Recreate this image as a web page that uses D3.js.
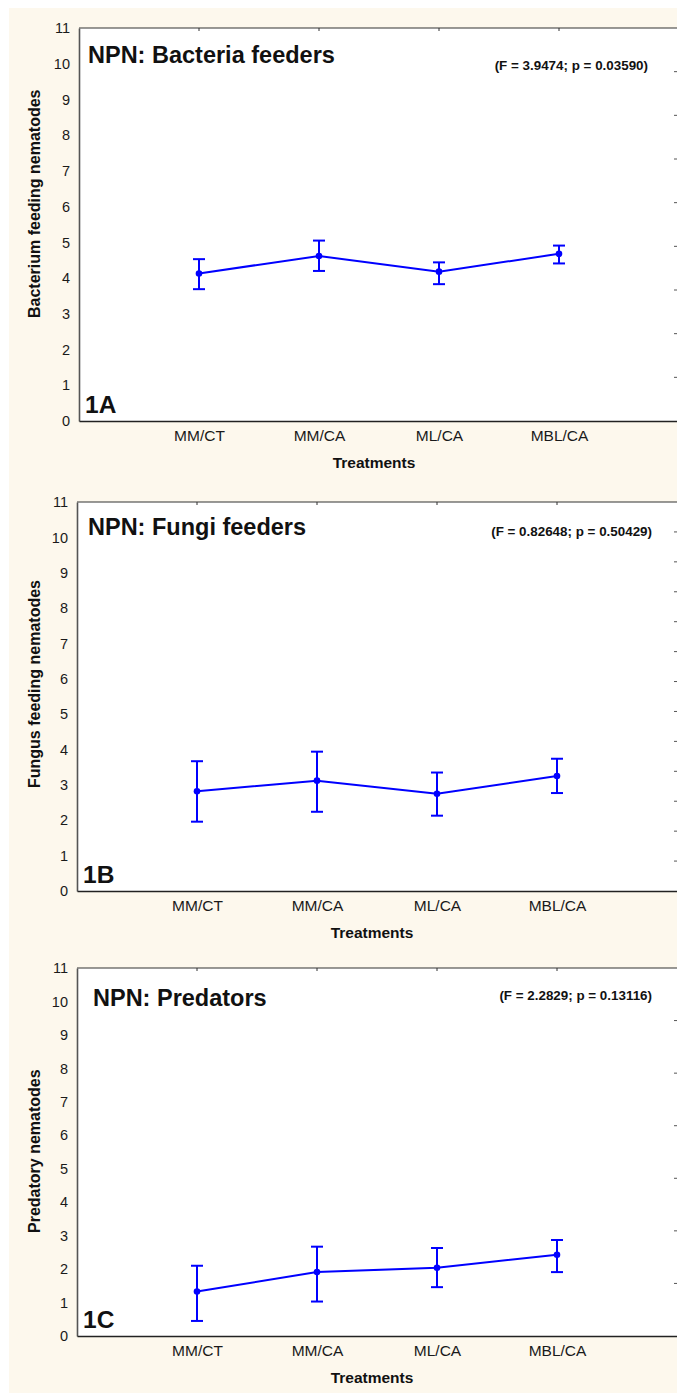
<!DOCTYPE html>
<html><head><meta charset="utf-8">
<script src="https://cdn.jsdelivr.net/npm/d3@7"></script>
<style>
html,body{margin:0;padding:0;background:#fff;}
svg{display:block;font-family:Arial,"Liberation Sans",sans-serif;}
</style></head>
<body>
<script>
// ---- data ----
const categories = ["MM/CT", "MM/CA", "ML/CA", "MBL/CA"];
const yTicks = [0,1,2,3,4,5,6,7,8,9,10,11];

const bacteriaMean  = [4.13, 4.62, 4.18, 4.68];
const bacteriaUpper = [4.53, 5.05, 4.44, 4.91];
const bacteriaLower = [3.69, 4.20, 3.83, 4.41];

const fungiMean  = [2.82, 3.12, 2.75, 3.25];
const fungiUpper = [3.67, 3.94, 3.35, 3.74];
const fungiLower = [1.96, 2.24, 2.13, 2.77];

const predMean  = [1.33, 1.91, 2.04, 2.43];
const predUpper = [2.10, 2.67, 2.63, 2.87];
const predLower = [0.45, 1.03, 1.46, 1.91];

const titles = ["NPN: Bacteria feeders", "NPN: Fungi feeders", "NPN: Predators"];
const stats = ["(F = 3.9474; p = 0.03590)", "(F = 0.82648; p = 0.50429)", "(F = 2.2829; p = 0.13116)"];
const yLabels = ["Bacterium feeding nematodes", "Fungus feeding nematodes", "Predatory nematodes"];
const panelTags = ["1A", "1B", "1C"];
const xLabel = "Treatments";
const rightTickCounts = [9, 13, 7];

// ---- layout (positions only) ----
const layout = [
  {left:79, top:28,  bottom:421,  titleX:88, titleDy:35, statDy:42, statX:648},
  {left:77, top:502, bottom:891,  titleX:88, titleDy:33, statDy:34, statX:652},
  {left:77, top:968, bottom:1336, titleX:93, titleDy:38, statDy:32, statX:652}
];
const series = [
  {mean:bacteriaMean, up:bacteriaUpper, lo:bacteriaLower},
  {mean:fungiMean, up:fungiUpper, lo:fungiLower},
  {mean:predMean, up:predUpper, lo:predLower}
];

const W = 677, H = 1395;
const svg = d3.select("body").append("svg").attr("width", W).attr("height", H);
svg.append("rect").attr("x",0).attr("y",0).attr("width",W).attr("height",H).attr("fill","#fff");
svg.append("rect").attr("x",9).attr("y",8).attr("width",W-9).attr("height",1393-8).attr("fill","#fdf8ed");

const blue = "#0000ff";

layout.forEach((L, pi) => {
  const right = L.left + 600;
  const g = svg.append("g");
  const x = d3.scaleLinear().domain([0, 5]).range([L.left, right]);
  const y = d3.scaleLinear().domain([0, 11]).range([L.bottom, L.top]);
  const s = series[pi];

  // plot area
  g.append("rect").attr("x", L.left).attr("y", L.top)
    .attr("width", right - L.left).attr("height", L.bottom - L.top).attr("fill", "#fff");

  // top border with ticks
  g.append("line").attr("x1", L.left).attr("x2", right).attr("y1", L.top).attr("y2", L.top)
    .attr("stroke", "#333").attr("stroke-width", 1.2);
  categories.forEach((c, i) => {
    g.append("line").attr("x1", x(i+1)).attr("x2", x(i+1)).attr("y1", L.top).attr("y2", L.top+3)
      .attr("stroke", "#333").attr("stroke-width", 1);
  });

  // right-side ticks
  const yr = d3.scaleLinear().domain([0, rightTickCounts[pi]]).range([L.bottom, L.top]);
  d3.range(1, rightTickCounts[pi]).forEach(k => {
    g.append("line").attr("x1", 674).attr("x2", 677).attr("y1", yr(k)).attr("y2", yr(k))
      .attr("stroke", "#555").attr("stroke-width", 1);
  });

  // left axis
  const yAxis = d3.axisLeft(y).tickValues(yTicks).tickSize(0).tickPadding(9).tickFormat(d3.format("d"));
  const ya = g.append("g").attr("transform", `translate(${L.left},0)`).call(yAxis);
  ya.select(".domain").attr("stroke", "#555").attr("stroke-width", 1.6);
  ya.selectAll("text").attr("font-size", 14.5).attr("fill", "#1a1a1a")
    .attr("font-family", "Arial, 'Liberation Sans', sans-serif");

  // bottom axis
  const xAxis = d3.axisBottom(x).tickValues([1,2,3,4]).tickSize(0).tickPadding(8)
    .tickFormat(d => categories[d-1]);
  const xa = g.append("g").attr("transform", `translate(0,${L.bottom})`).call(xAxis);
  xa.select(".domain").attr("stroke", "#222").attr("stroke-width", 1.6);
  xa.selectAll("text").attr("font-size", 15.5).attr("fill", "#1a1a1a").attr("dy", null)
    .attr("y", 20).attr("font-family", "Arial, 'Liberation Sans', sans-serif");

  // axis titles
  g.append("text").attr("x", L.left + 295).attr("y", L.bottom + 47)
    .attr("text-anchor", "middle").attr("font-weight", "bold").attr("font-size", 15.5)
    .attr("fill", "#111").text(xLabel);
  g.append("text").attr("transform", `translate(40,${L.bottom - 103}) rotate(-90)`)
    .attr("text-anchor", "start").attr("font-weight", "bold").attr("font-size", 16)
    .attr("fill", "#111").text(yLabels[pi]);

  // title and stats
  g.append("text").attr("x", L.titleX).attr("y", L.top + L.titleDy)
    .attr("font-weight", "bold").attr("font-size", 23.5).attr("fill", "#111").text(titles[pi]);
  g.append("text").attr("x", L.statX).attr("y", L.top + L.statDy).attr("text-anchor", "end")
    .attr("font-weight", "bold").attr("font-size", 13.4).attr("fill", "#111").text(stats[pi]);
  g.append("text").attr("x", L.left + 6).attr("y", L.bottom - 8)
    .attr("font-weight", "bold").attr("font-size", 24.5).attr("fill", "#111").text(panelTags[pi]);

  // line
  const line = d3.line().x((d, i) => x(i+1)).y(d => y(d));
  g.append("path").datum(s.mean).attr("d", line).attr("fill", "none")
    .attr("stroke", blue).attr("stroke-width", 2);

  // error bars
  categories.forEach((c, i) => {
    const cx = x(i+1);
    g.append("line").attr("x1", cx).attr("x2", cx).attr("y1", y(s.up[i])).attr("y2", y(s.lo[i]))
      .attr("stroke", blue).attr("stroke-width", 2);
    [s.up[i], s.lo[i]].forEach(v => {
      g.append("line").attr("x1", cx - 6).attr("x2", cx + 6).attr("y1", y(v)).attr("y2", y(v))
        .attr("stroke", blue).attr("stroke-width", 2);
    });
    g.append("circle").attr("cx", cx).attr("cy", y(s.mean[i])).attr("r", 3.3).attr("fill", blue);
  });
});
</script>
</body></html>
